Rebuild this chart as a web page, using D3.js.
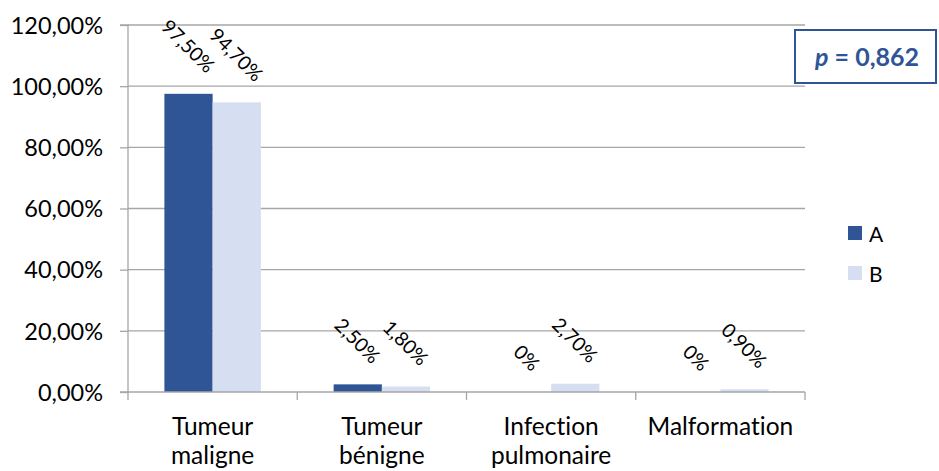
<!DOCTYPE html>
<html><head><meta charset="utf-8">
<script src="https://cdn.jsdelivr.net/npm/d3@7"></script>
<style>body{margin:0;background:#fff}svg{display:block}text{font-family:Lato,"Open Sans",sans-serif;font-variant-ligatures:none;font-feature-settings:"liga" 0}</style>
</head><body><svg id="c" width="939" height="471"></svg>
<script>
const categories = [["Tumeur","maligne"],["Tumeur","bénigne"],["Infection","pulmonaire"],["Malformation"]];
const seriesNames = ["A","B"];
const valuesA = [97.5, 2.5, 0, 0];
const valuesB = [94.7, 1.8, 2.7, 0.9];
const labelsA = ["97,50%","2,50%","0%","0%"];
const labelsB = ["94,70%","1,80%","2,70%","0,90%"];
const yTicks = [0,20,40,60,80,100,120];
const yTickLabels = ["0,00%","20,00%","40,00%","60,00%","80,00%","100,00%","120,00%"];
const pText = "0,862";

const colors = ["#2F5597","#D6DFF1"];
const svg = d3.select("#c");
const x0 = 128, x1 = 805, yTop = 25, yBot = 392;
const x = d3.scaleBand().domain(d3.range(categories.length)).range([x0,x1]).paddingInner(0.43).paddingOuter(0.215);
const xc = d3.scaleBand().domain(d3.range(categories.length)).range([x0,x1]);
const xs = d3.scaleBand().domain([0,1]).range([0,x.bandwidth()]);
const y = d3.scaleLinear().domain([0,120]).range([yBot,yTop]);

// gridlines
svg.append("g").selectAll("line").data(yTicks.filter(d=>d>0)).join("line")
  .attr("x1",x0).attr("x2",x1).attr("y1",d=>y(d)).attr("y2",d=>y(d))
  .attr("stroke","#A6A6A6").attr("stroke-width",1.3);

// y axis
const ya = svg.append("g").attr("transform",`translate(${x0},0)`)
  .call(d3.axisLeft(y).tickValues(yTicks).tickSize(8).tickFormat((d,i)=>yTickLabels[i]));
ya.select(".domain").attr("stroke","#A6A6A6").attr("stroke-width",1.3).attr("d",`M-8,${yTop}H0V${yBot}H-8`);
ya.selectAll(".tick line").attr("stroke","#A6A6A6").attr("stroke-width",1.3);
ya.selectAll(".tick text").attr("font-size",23.5).attr("fill","#000").attr("x",-25).attr("dy","0.35em");

// bars
const data = [valuesA, valuesB];
const labels = [labelsA, labelsB];
data.forEach((vals,s)=>{
  svg.append("g").selectAll("rect").data(vals).join("rect")
    .attr("x",(d,i)=>x(i)+xs(s)).attr("width",xs.bandwidth())
    .attr("y",d=>y(d)).attr("height",d=>yBot-y(d)).attr("fill",colors[s]);
});

// x axis
const xa = svg.append("g").attr("transform",`translate(0,${yBot})`);
xa.append("line").attr("x1",x0).attr("x2",x1).attr("stroke","#A6A6A6").attr("stroke-width",1.3);
xa.selectAll(".tk").data(d3.range(categories.length+1)).join("line")
  .attr("x1",i=>i<categories.length?xc(i):x1).attr("x2",i=>i<categories.length?xc(i):x1)
  .attr("y1",0).attr("y2",8).attr("stroke","#A6A6A6").attr("stroke-width",1.3);
categories.forEach((lines,i)=>{
  const t = svg.append("text").attr("text-anchor","middle").attr("font-size",24.5).attr("fill","#000");
  lines.forEach((l,k)=>t.append("tspan").attr("x",xc(i)+xc.bandwidth()/2).attr("y",435+k*29).text(l));
});

// data labels
data.forEach((vals,s)=>{
  vals.forEach((v,i)=>{
    const cx = x(i)+xs(s)+xs.bandwidth()/2;
    const t = svg.append("text").attr("font-size",19.5).attr("fill","#000")
      .attr("text-anchor","middle").attr("dominant-baseline","central").text(labels[s][i]);
    const w = t.node().getComputedTextLength();
    const h = (w+14)*Math.SQRT1_2;
    const cy = y(v) - 20 - h/2;
    t.attr("transform",`translate(${cx},${cy}) rotate(45)`);
  });
});

// legend
seriesNames.forEach((n,i)=>{
  const gy = 226 + i*40;
  svg.append("rect").attr("x",848).attr("y",gy).attr("width",14).attr("height",14).attr("fill",colors[i]);
  svg.append("text").attr("x",869).attr("y",gy+7).attr("dominant-baseline","central").attr("font-size",21).attr("fill","#000").text(n);
});

// p box
svg.append("rect").attr("x",795).attr("y",30).attr("width",141).attr("height",53)
  .attr("fill","#fff").attr("stroke","#2F5597").attr("stroke-width",2);
const pt = svg.append("text").attr("x",867).attr("y",66).attr("text-anchor","middle")
  .attr("font-size",25).attr("font-weight","bold").attr("fill","#2F5597");
pt.append("tspan").attr("font-style","italic").text("p");
pt.append("tspan").text(" = " + pText);
</script></body></html>
